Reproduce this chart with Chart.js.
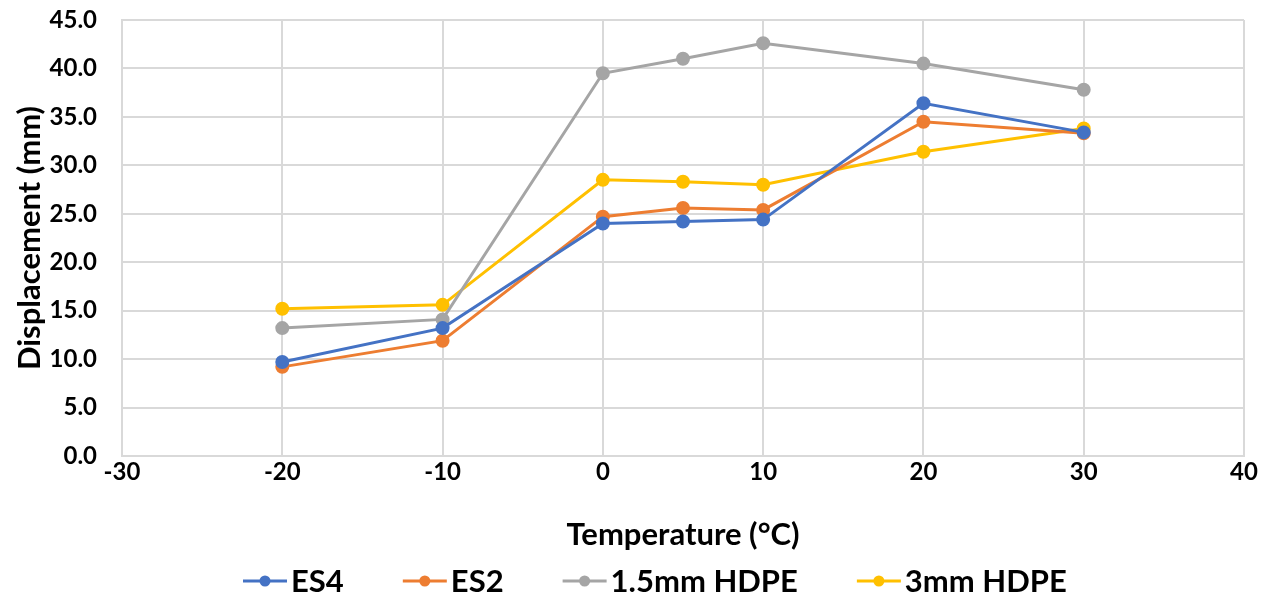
<!DOCTYPE html>
<html>
<head>
<meta charset="utf-8">
<title>Displacement vs Temperature</title>
<script src="https://cdn.jsdelivr.net/npm/chart.js@4.4.1/dist/chart.umd.min.js"></script>
<style>
  html, body { margin: 0; padding: 0; background: #fff; }
  canvas { display: block; }
</style>
</head>
<body>
<canvas id="chart" width="1271" height="599"></canvas>
<script>
// temperatures (°C) and displacement readings (mm)
const temps = [-20, -10, 0, 5, 10, 20, 30];
const es4 = [9.7, 13.2, 24.0, 24.2, 24.4, 36.4, 33.4];
const es2 = [9.2, 11.9, 24.7, 25.6, 25.4, 34.5, 33.3];
const hdpe15 = [13.2, 14.1, 39.5, 41.0, 42.6, 40.5, 37.8];
const hdpe3 = [15.2, 15.6, 28.5, 28.3, 28.0, 31.4, 33.8];

const seriesNames = ['ES4', 'ES2', '1.5mm HDPE', '3mm HDPE'];
const seriesValues = [es4, es2, hdpe15, hdpe3];
const colors = ['#4472C4', '#ED7D31', '#A5A5A5', '#FFC000'];

const FONT = 'Lato, "Liberation Sans", sans-serif';
const gridColor = '#d9d9d9';

const datasets = seriesNames.map((name, i) => ({
    label: name,
    data: temps.map((t, j) => ({ x: t, y: seriesValues[i][j] })),
    borderColor: colors[i],
    backgroundColor: colors[i],
    borderWidth: 3,
    pointRadius: 5.5,
    pointHoverRadius: 5.5,
    showLine: true,
    tension: 0
}));

// legend drawn under the axis title: short line with a dot, then the name
const bottomLegend = {
    id: 'bottomLegend',
    afterDraw(chart) {
        const ctx = chart.ctx;
        const y = 581;
        const lineLen = 44, textGap = 4, itemGap = 59;
        ctx.save();
        ctx.font = 'bold 31px ' + FONT;
        let x = 243;
        seriesNames.forEach((name, i) => {
            ctx.strokeStyle = colors[i];
            ctx.lineWidth = 3;
            ctx.beginPath();
            ctx.moveTo(x, y);
            ctx.lineTo(x + lineLen, y);
            ctx.stroke();
            ctx.fillStyle = colors[i];
            ctx.beginPath();
            ctx.arc(x + lineLen / 2, y, 5.5, 0, Math.PI * 2);
            ctx.fill();
            ctx.fillStyle = '#000';
            ctx.textBaseline = 'middle';
            ctx.textAlign = 'left';
            ctx.fillText(name, x + lineLen + textGap, y + 1);
            x += lineLen + textGap + ctx.measureText(name).width + itemGap;
        });
        ctx.restore();
    }
};

new Chart(document.getElementById('chart'), {
    type: 'scatter',
    data: { datasets },
    plugins: [bottomLegend],
    options: {
        responsive: false,
        animation: false,
        layout: { padding: { left: 0, right: 27, top: 20, bottom: 0 } },
        plugins: {
            legend: { display: false },
            tooltip: { enabled: false }
        },
        scales: {
            x: {
                type: 'linear',
                min: -30,
                max: 40,
                afterFit: s => { s.height = 143; s.paddingLeft = 0; s.paddingRight = 0; },
                ticks: {
                    stepSize: 10,
                    padding: 2,
                    color: '#000',
                    font: { family: FONT, size: 24, weight: 'bold' }
                },
                grid: { color: gridColor, lineWidth: 2, drawTicks: false },
                border: { color: gridColor, width: 2 },
                title: {
                    display: true,
                    text: 'Temperature (°C)',
                    color: '#000',
                    font: { family: FONT, size: 31, weight: 'bold' },
                    padding: { top: 0, bottom: 45 }
                }
            },
            y: {
                min: 0,
                max: 45,
                afterFit: s => { s.width = 122; s.paddingTop = 0; s.paddingBottom = 0; },
                ticks: {
                    stepSize: 5,
                    padding: 25,
                    color: '#000',
                    font: { family: FONT, size: 24, weight: 'bold' },
                    callback: v => v.toFixed(1)
                },
                grid: { color: gridColor, lineWidth: 2, drawTicks: false },
                border: { color: gridColor, width: 2 },
                title: {
                    display: true,
                    text: 'Displacement (mm)',
                    color: '#000',
                    font: { family: FONT, size: 31, weight: 'bold' },
                    padding: { top: 11, bottom: 0 }
                }
            }
        }
    }
});
</script>
</body>
</html>
